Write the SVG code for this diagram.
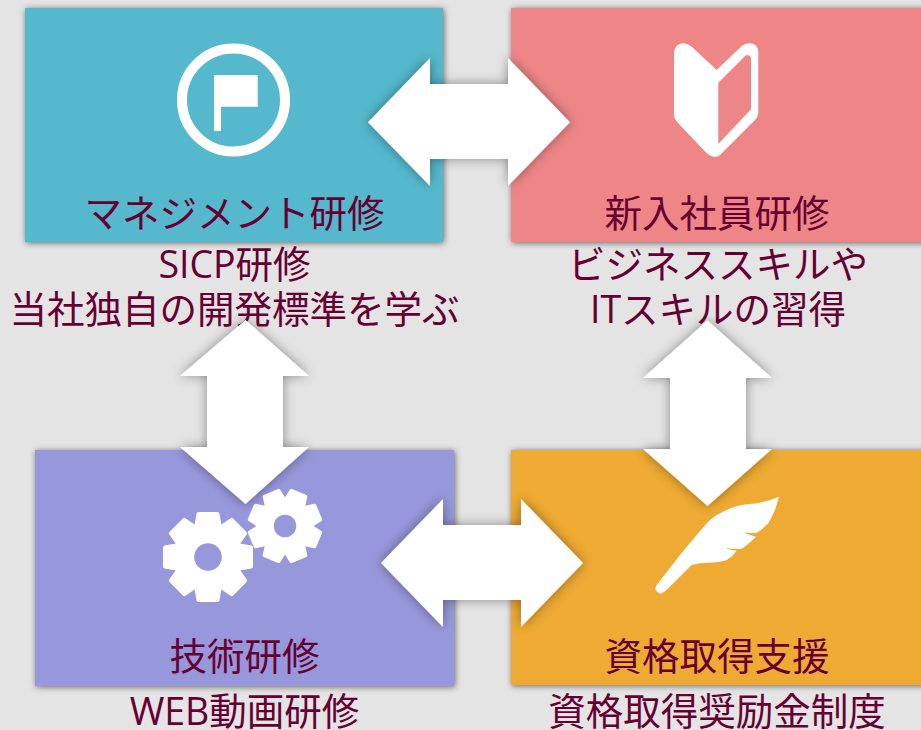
<svg xmlns="http://www.w3.org/2000/svg" width="921" height="730" viewBox="0 0 921 730">
<style>
text{font-family:"Open Sans","Noto Sans CJK JP",sans-serif;font-size:37.500px;fill:#660033;text-anchor:middle}
.panel{filter:url(#ps)}
.icon{fill:#fff}
.arrow{fill:#fff;filter:url(#as)}
</style>
<defs>
<filter id="ps" x="-10%" y="-10%" width="120%" height="120%"><feDropShadow dx="1" dy="1" stdDeviation="3" flood-color="#000" flood-opacity=".55"/></filter>
<filter id="as" x="-20%" y="-20%" width="140%" height="140%"><feDropShadow dx="0" dy="0" stdDeviation="6" flood-color="#000" flood-opacity=".4"/></filter>
<g id="gear">
<circle r="33"/>
<g stroke="#fff" stroke-width="4" stroke-linejoin="round">
<polygon id="t" points="-12,-29 -9.500,-43 9.500,-43 12,-29"/>
<use href="#t" transform="rotate(45)"/><use href="#t" transform="rotate(90)"/><use href="#t" transform="rotate(135)"/><use href="#t" transform="rotate(180)"/><use href="#t" transform="rotate(225)"/><use href="#t" transform="rotate(270)"/><use href="#t" transform="rotate(315)"/>
</g>
<circle r="13.800" fill="#9797db"/>
</g>
</defs>
<rect width="921" height="730" fill="#e4e4e4"/>
<g id="node-management">
<rect class="panel" x="25" y="8" width="418" height="234" fill="#54b8cc"/>
<circle cx="233.500" cy="100" r="51.500" fill="none" stroke="#fff" stroke-width="10"/>
<polygon class="icon" points="214,75 257.700,75 257.700,106.700 221,106.700 221,131 214,131"/>
<text x="234.500" y="227">マネジメント研修</text>
<text x="234.500" y="278">SICP研修</text>
<text x="234.500" y="323">当社独自の開発標準を学ぶ</text>
</g>
<g id="node-newhire">
<rect class="panel" x="511" y="8" width="420" height="234" fill="#ee8688"/>
<path class="icon" fill-rule="evenodd" d="M674,53Q675,43.500 683.300,43.300Q688,43.500 691.700,46.700L716.700,70L741.700,46Q745.500,43.500 750,43.300Q758,44 758.300,51.700V113.300Q758,117 755,120L720,155Q716.500,157.500 713.300,156.700Q709.500,156 706.700,153.300L678.300,123.300Q674,119 674,115ZM718.300,82.700V144L751,109.300V58.300Q750.500,54.500 747,55.300Q745.500,55.500 745,56Z"/>
<text x="717" y="227">新入社員研修</text>
<text x="718" y="278">ビジネススキルや</text>
<text x="718" y="323">ITスキルの習得</text>
</g>
<g id="node-tech">
<rect class="panel" x="35" y="450" width="419" height="236" fill="#9797db"/>
<use href="#gear" class="icon" transform="translate(208,557)"/>
<use href="#gear" class="icon" transform="translate(285,526) rotate(22.500) scale(.82)"/>
<text x="244.500" y="670">技術研修</text>
<text x="244.500" y="725">WEB動画研修</text>
</g>
<g id="node-cert">
<rect class="panel" x="511" y="450" width="420" height="235" fill="#eeaa33"/>
<path class="icon" d="M779,496.700Q764,503 750,504Q736,505 726.700,510Q717,514 710,520Q703,527 696.700,535L680,555L656.700,585Q654.500,589 656,590Q658,594 661.700,593.300Q665,592 668.300,588.300L691.700,565Q700,562.500 710,562.700Q719,562.500 726.700,560Q733,556 736.700,550.700Q730,550 725,547.700Q733,549.500 740,549Q744,548 746.700,545Q752,541 756,536.700Q749,535 743.300,532.300Q750,533.500 756.700,532.700Q763,529 768.300,523.300Q772,517 775,510Z"/>
<text x="717" y="670">資格取得支援</text>
<text x="717" y="725">資格取得奨励金制度</text>
</g>
<g id="connectors">
<polygon class="arrow" points="368,122.300 430,58 430,84 508,84 508,58 570,122.300 508,186 508,159 430,159 430,186"/>
<polygon class="arrow" points="381,563 443,499 443,525 521,525 521,499 583,563 521,627 521,600 443,600 443,627"/>
<polygon class="arrow" points="245.500,320 309,376 283,376 283,447 309,447 245.500,504 180,447 207,447 207,376 180,376"/>
<polygon class="arrow" points="707.500,320.500 772,378 746,378 746,449 772,449 707.500,506 643,449 670,449 670,378 643,378"/>
</g>
</svg>
